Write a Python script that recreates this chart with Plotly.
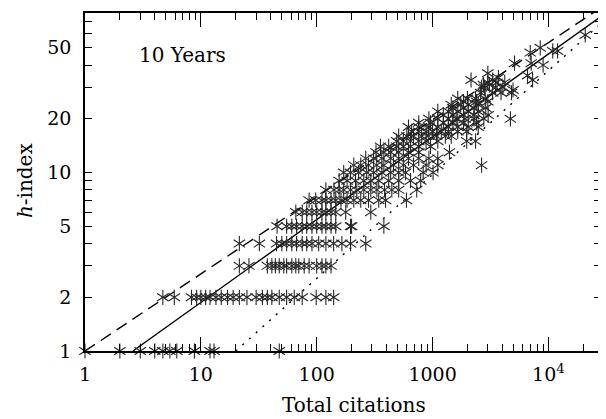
import plotly.graph_objects as go

# ---- data (total citations, h-index) ----
h1 = [1, 2, 3, 4, 4.7, 5.4, 6.2, 8.8, 12, 13, 47.5]
h2 = [4.7, 5.9, 8.3, 9.2, 10, 11, 12, 13.5, 15, 17, 19, 21.5, 25, 30, 34, 37.5, 41, 47.5, 55, 64, 75, 99, 120, 140]
h3 = [21.5, 26, 37.5, 41, 44, 47.5, 52, 55, 61, 66, 70, 78, 86, 100, 111, 120, 133]
h4 = [21.5, 32, 45, 50, 55, 61, 67, 75, 82, 91, 104, 120, 140, 165, 196, 265]
h5 = [45.5, 55, 61, 67, 75, 82, 91, 100, 111, 120, 133, 146, 196, 200, 380]
h6 = [66, 75, 82, 91, 100, 111, 120, 133, 146, 178, 293]
h7 = [86, 98, 111, 120, 133, 146, 162, 183, 209, 240, 280, 343, 393, 595]
h8 = [120, 141, 156, 171, 196, 222, 255, 293, 331, 385, 445, 510, 730]
h9 = [156, 183, 216, 255, 293, 343, 418, 510, 645, 790]
h10 = [171, 196, 230, 270, 310, 365, 435, 510, 585, 830, 1010]
h11 = [209, 240, 280, 330, 380, 460, 560, 685, 880, 1110, 2650]
h12 = [265, 310, 365, 435, 510, 620, 760, 930, 1110]
h13 = [325, 380, 435, 510, 620, 760, 1400]
h14 = [355, 418, 490, 560, 645, 760, 960]
h15 = [490, 560, 645, 760, 880, 1110, 1970, 2350]
h16 = [510, 600, 685, 805, 920, 1080, 1290, 1450]
h17 = [660, 760, 880, 1000, 1190, 1370, 1650, 1970]
h18 = [620, 760, 930, 1110, 1370, 1650, 2030, 2480]
h19 = [760, 960, 1240, 1500, 1850, 2400]
h20 = [930, 1110, 1370, 1600, 1900, 2280, 2770, 4700]
h21 = [1240, 1500, 1850, 2280, 3020]
h22 = [1110, 1370, 1650, 2030, 2480]
h23 = [1500, 1850, 2280, 2880]
h24 = [1450, 1750, 2030, 2480]
h25 = [1850, 2400, 3000]
h26 = [1650, 2000, 2350, 2850]
h28 = [2600, 3300, 3900, 4800]
h29 = [4950]
h30 = [2650, 2800, 3500, 4050]
h31 = [2750, 3100]
h32 = [3000, 3600, 4200]
h33 = [2150, 3300, 7300]
h34 = [3700]
h35 = [6600]
h36 = [3000]
h40 = [9000]
h41 = [5100, 7100]
h47 = [6970]
h48 = [10900, 12000]
h50 = [8500]
h59 = [20800]

rows = [(1, h1), (2, h2), (3, h3), (4, h4), (5, h5), (6, h6), (7, h7), (8, h8),
        (9, h9), (10, h10), (11, h11), (12, h12), (13, h13), (14, h14), (15, h15),
        (16, h16), (17, h17), (18, h18), (19, h19), (20, h20), (21, h21), (22, h22),
        (23, h23), (24, h24), (25, h25), (26, h26), (28, h28), (29, h29), (30, h30),
        (31, h31), (32, h32), (33, h33), (34, h34), (35, h35), (36, h36), (40, h40),
        (41, h41), (47, h47), (48, h48), (50, h50), (59, h59)]

citations = [n for h, ns in rows for n in ns]
h_index = [h for h, ns in rows for n in ns]

# reference lines  h = (N / N0) ** a
line_N0 = [1.0, 2.59, 20.0]
line_exp = [0.432, 0.464, 0.582]
line_dash = ["12px,7px", "solid", "2px,7px"]
N_max = 40000

x_ticks = [1, 10, 100, 1000, 10000]
x_ticktext = ["1", "10", "100", "1000", "10<sup>4</sup>"]
y_ticks = [1, 2, 5, 10, 20, 50]
y_ticktext = ["1", "2", "5", "10", "20", "50"]

FONT = "DejaVu Serif"
fig = go.Figure()

for N0, a, d in zip(line_N0, line_exp, line_dash):
    xs = [N0, N_max]
    ys = [(x / N0) ** a for x in xs]
    fig.add_trace(go.Scatter(x=xs, y=ys, mode="lines",
                             line=dict(color="black", width=1.4, dash=d),
                             hoverinfo="skip"))

for sym in ["y-up-open", "y-down-open"]:
    fig.add_trace(go.Scatter(x=citations, y=h_index, mode="markers",
                             marker=dict(symbol=sym, size=9.5, color="#262626",
                                         line=dict(color="#262626", width=1.1)),
                             cliponaxis=False))

axis_common = dict(type="log", showgrid=False, zeroline=False,
                   ticks="inside", tickcolor="black", tickwidth=1.3,
                   showline=True, linecolor="black", linewidth=1.5,
                   mirror="allticks")

# the page body adds an 8px offset; the figure is sized so the plot frame
# lands at x 85..603, y 13..351 of the 606x419 window
fig.update_layout(
    width=598, height=411,
    margin=dict(l=77, r=3, t=5, b=68),
    plot_bgcolor="white", paper_bgcolor="white",
    showlegend=False,
    font=dict(family=FONT, size=19, color="black"),
    xaxis=dict(range=[0, 4.454], tickvals=x_ticks, ticktext=x_ticktext,
               ticklen=14, ticklabelstandoff=5,
               minor=dict(ticks="inside", ticklen=7, tickwidth=1.3,
                          tickcolor="black", dtick="D1", showgrid=False),
               **axis_common),
    yaxis=dict(range=[0, 1.894], tickvals=y_ticks, ticktext=y_ticktext,
               ticklen=7, ticklabelstandoff=8,
               minor=dict(ticks="inside", ticklen=7, tickwidth=1.3,
                          tickcolor="black", dtick="D1", showgrid=False),
               **axis_common),
    yaxis2=dict(overlaying="y", anchor="x", side="left", type="log",
                range=[0, 1.894], tickvals=[1, 10], ticks="inside",
                ticklen=14, tickwidth=1.3, tickcolor="black",
                showticklabels=False, showline=False, showgrid=False,
                zeroline=False, mirror="allticks"),
)

fig.add_annotation(text="10 Years", xref="paper", yref="paper",
                   x=0.100, y=0.876, xanchor="left", yanchor="middle",
                   showarrow=False, font=dict(family=FONT, size=20))
fig.add_annotation(text="Total citations", xref="paper", yref="paper",
                   x=0.521, y=-0.16, xanchor="center", yanchor="middle",
                   showarrow=False, font=dict(family=FONT, size=20))
fig.add_annotation(text="<i>h</i>-index", xref="paper", yref="paper",
                   x=-0.116, y=0.506, xanchor="center", yanchor="middle",
                   textangle=-90, showarrow=False,
                   font=dict(family=FONT, size=20))

fig.write_html("out.html")
